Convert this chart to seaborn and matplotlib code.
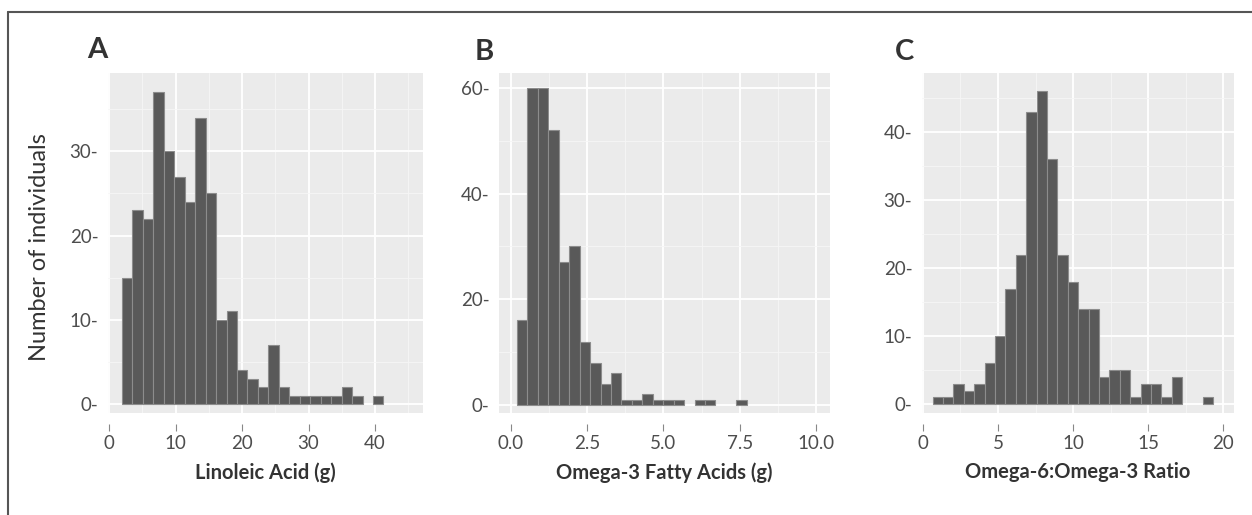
import numpy as np
import pandas as pd
import matplotlib
matplotlib.use("Agg")
import matplotlib.pyplot as plt
import seaborn as sns
from matplotlib.ticker import MultipleLocator, FixedLocator
from matplotlib.lines import Line2D

# ---- data (counts per bin) ----
linoleic_counts = [15, 23, 22, 37, 30, 27, 24, 34, 25, 10, 11, 4, 3, 2, 7, 2, 1, 1, 1, 1, 1, 2, 1, 0, 1]
linoleic_range = (1.95, 41.25)
omega3_counts = [16, 60, 60, 52, 27, 30, 12, 8, 4, 6, 1, 1, 2, 1, 1, 1, 0, 1, 1, 0, 0, 1]
omega3_range = (0.2, 7.73)
ratio_counts = [1, 1, 3, 2, 3, 6, 10, 17, 22, 43, 46, 36, 22, 18, 14, 14, 4, 5, 5, 1, 3, 3, 1, 4, 0, 0, 1]
ratio_range = (0.66, 19.32)

panel_letters = ["A", "B", "C"]
x_labels = ["Linoleic Acid (g)", "Omega-3 Fatty Acids (g)", "Omega-6:Omega-3 Ratio"]
x_ticks = [[0, 10, 20, 30, 40], [0.0, 2.5, 5.0, 7.5, 10.0], [0, 5, 10, 15, 20]]
x_tick_labels = [["0", "10", "20", "30", "40"], ["0.0", "2.5", "5.0", "7.5", "10.0"], ["0", "5", "10", "15", "20"]]
y_ticks = [[0, 10, 20, 30], [0, 20, 40, 60], [0, 10, 20, 30, 40]]
y_label = "Number of individuals"

# ---- layout / style ----
W, H = 1252, 515
sns.set_theme(style="darkgrid")
plt.rcParams["font.family"] = ["Lato", "DejaVu Sans"]

fig = plt.figure(figsize=(W / 100, H / 100), dpi=100)
fig.patch.set_facecolor("white")

ax_px = [(108, 315), (499, 331), (922, 312)]
top_px, bot_px = 73, 413
xlims = [(-0.15, 47.2), (-0.39, 10.46), (-0.05, 20.7)]
ylims = [(-1.07, 39.3), (-1.5, 62.8), (-1.3, 48.7)]
x_minor = [5, 1.25, 2.5]
y_minor = [5, 10, 5]
letter_pos = [(97, 50), (484, 52), (905, 52)]

series = [(linoleic_counts, linoleic_range), (omega3_counts, omega3_range), (ratio_counts, ratio_range)]

for i, (counts, rng) in enumerate(series):
    left, width = ax_px[i]
    ax = fig.add_axes([left / W, (H - bot_px) / H, width / W, (bot_px - top_px) / H])
    ax.set_facecolor("#EBEBEB")
    edges = np.linspace(rng[0], rng[1], len(counts) + 1)
    centers = (edges[:-1] + edges[1:]) / 2
    df = pd.DataFrame({"x": centers, "n": np.asarray(counts, dtype=float)})
    sns.histplot(data=df, x="x", weights="n", bins=edges.tolist(), ax=ax,
                 color="#595959", edgecolor="#8c8c8c", linewidth=0.8, alpha=1.0)
    for p in ax.patches:
        if p.get_height() == 0:
            p.set_visible(False)
    ax.set_xlim(*xlims[i])
    ax.set_ylim(*ylims[i])
    ax.xaxis.set_major_locator(FixedLocator(x_ticks[i]))
    ax.set_xticklabels(x_tick_labels[i])
    ax.xaxis.set_minor_locator(MultipleLocator(x_minor[i]))
    ax.yaxis.set_major_locator(FixedLocator(y_ticks[i]))
    ax.set_yticklabels([f"{v}-" for v in y_ticks[i]])
    ax.yaxis.set_minor_locator(MultipleLocator(y_minor[i]))
    ax.grid(which="major", color="white", linewidth=1.3)
    ax.grid(which="minor", color="#F6F6F6", linewidth=0.6)
    ax.set_axisbelow(True)
    for s in ax.spines.values():
        s.set_visible(False)
    ax.spines["bottom"].set_position(("outward", 8))
    ax.tick_params(axis="x", which="major", direction="out", length=5, width=0.8,
                   color="#888888", pad=3, labelsize=13.5, labelcolor="#4D4D4D", bottom=True)
    ax.tick_params(axis="x", which="minor", length=0)
    ax.tick_params(axis="y", which="both", length=0, pad=7, labelsize=13.5, labelcolor="#4D4D4D")
    ax.set_xlabel(x_labels[i], fontsize=14.5, fontweight="bold", color="#333333", labelpad=7)
    ax.set_ylabel("")
    fig.text(letter_pos[i][0] / W, 1 - letter_pos[i][1] / H, panel_letters[i],
             fontsize=21, fontweight="bold", color="#333333", ha="center", va="center")

fig.text(40 / W, 1 - 247 / H, y_label, rotation=90, fontsize=17, color="#333333",
         ha="center", va="center")

# outer frame (top and left edges)
fig.add_artist(Line2D([8 / W, 1.0], [1 - 12 / H, 1 - 12 / H], color="#555555", linewidth=1.5,
                      transform=fig.transFigure))
fig.add_artist(Line2D([8 / W, 8 / W], [0, 1 - 12 / H], color="#555555", linewidth=1.5,
                      transform=fig.transFigure))

fig.savefig("out.png", dpi=100)
